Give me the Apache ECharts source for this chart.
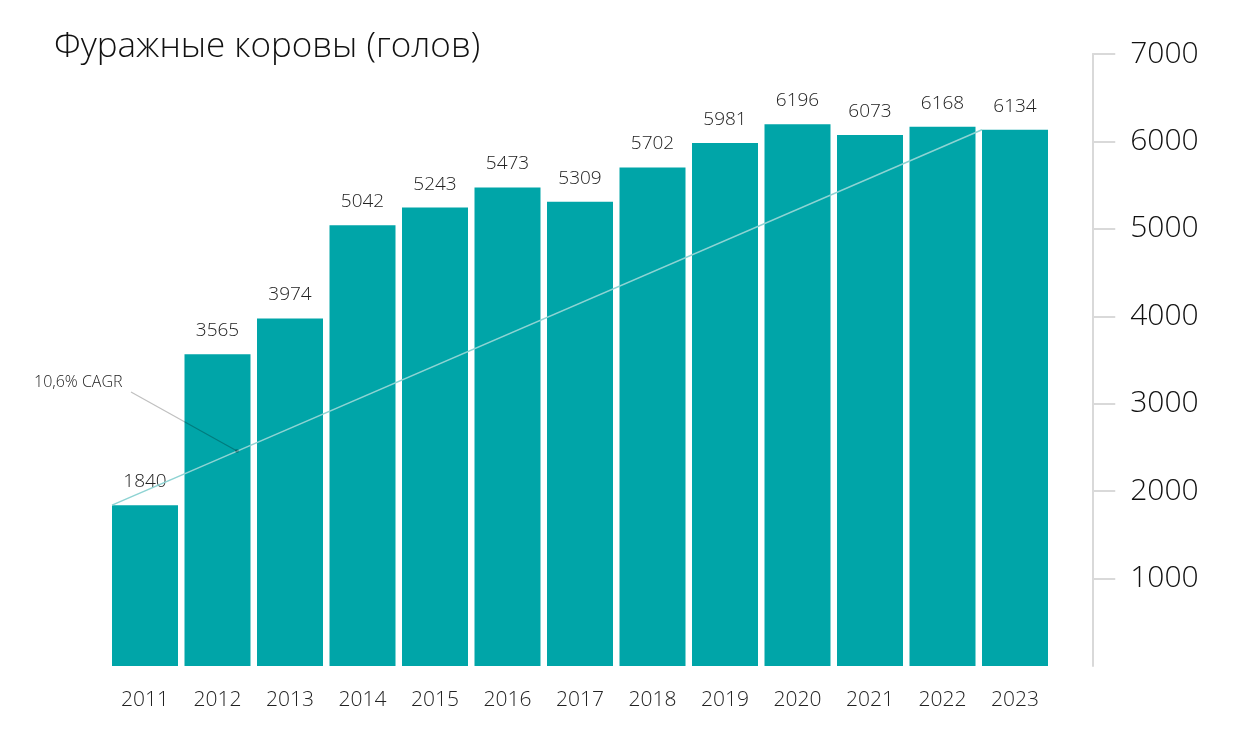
<!DOCTYPE html>
<html><head><meta charset="utf-8">
<script src="https://cdn.jsdelivr.net/npm/echarts@6/dist/echarts.min.js"></script>
<style>html,body{margin:0;padding:0;background:#fff}#c{width:1250px;height:749px}</style>
</head><body><div id="c"></div>
<script>
const categories = ['2011','2012','2013','2014','2015','2016','2017','2018','2019','2020','2021','2022','2023'];
const values = [1840,3565,3974,5042,5243,5473,5309,5702,5981,6196,6073,6168,6134];
const yTicks = [1000,2000,3000,4000,5000,6000,7000];
const titleText = 'Фуражные коровы (голов)';
const cagrText = '10,6% CAGR';

const FONT = 'Open Sans';
const gridLeft = 108.75, gridRight = 1250 - 1051.25;
const catW = (1250 - gridLeft - gridRight) / categories.length;
const barW = 66;
const halfFrac = (barW / 2) / catW;
const n = categories.length;

const chart = echarts.init(document.getElementById('c'));
chart.setOption({
  animation: false,
  title: {text: titleText, left: 49, top: 25, textStyle: {fontFamily: FONT, fontWeight: 300, fontSize: 35, color: '#111'}},
  grid: {left: gridLeft, right: gridRight, top: 54, bottom: 749 - 666},
  xAxis: [{
    type: 'category', data: categories,
    axisLine: {show: false}, axisTick: {show: false},
    axisLabel: {fontFamily: FONT, fontWeight: 300, fontSize: 21, color: '#222', margin: 24}
  }, {
    type: 'value', min: -0.5, max: n - 0.5, show: false
  }],
  yAxis: {
    type: 'value', position: 'right', min: 0, max: 7000, interval: 1000, offset: 41,
    splitLine: {show: false},
    axisLine: {show: true, onZero: false, lineStyle: {color: '#d9d9d9', width: 2}},
    axisTick: {show: true, length: 23, customValues: yTicks, lineStyle: {color: '#d9d9d9', width: 2}},
    axisLabel: {customValues: yTicks, formatter: v => String(v), fontFamily: FONT, fontWeight: 300, fontSize: 30, color: '#111', margin: 38}
  },
  series: [{
    type: 'bar', data: values, barWidth: barW, xAxisIndex: 0,
    itemStyle: {color: '#00A5A8'},
    label: {show: true, position: 'top', distance: 14, fontFamily: FONT, fontWeight: 300, fontSize: 19, color: '#222'}
  }, {
    type: 'line', xAxisIndex: 1, symbol: 'none', silent: true,
    data: [[0 - halfFrac, values[0]], [n - 1 - halfFrac, values[n - 1]]],
    lineStyle: {color: '#8ed3d3', width: 1.5}, z: 5
  }],
  graphic: [
    {type: 'text', left: 34, top: 374, style: {text: cagrText, fontFamily: FONT, fontSize: 16, fontWeight: 300, fill: '#222'}, z: 10},
    {type: 'line', shape: {x1: 131, y1: 392, x2: 237, y2: 451}, style: {stroke: 'rgba(0,0,0,0.25)', lineWidth: 1.2}, z: 10},
    {type: 'circle', shape: {cx: 237, cy: 451, r: 2}, style: {fill: 'rgba(0,0,0,0.25)'}, z: 10}
  ]
});
</script></body></html>
